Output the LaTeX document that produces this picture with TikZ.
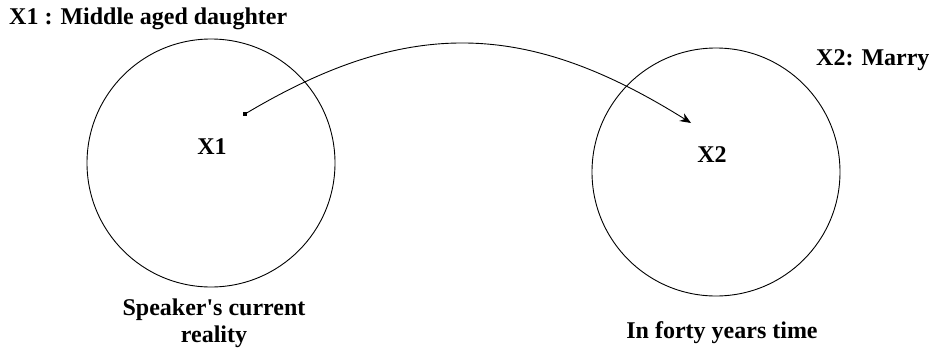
\documentclass[tikz,border=0pt]{standalone}
\usepackage{fontspec}
\setmainfont{Liberation Serif}
\usetikzlibrary{positioning, arrows.meta}
\tikzset{
  region/.style={circle, draw=black, line width=0.9pt, minimum size=248pt, inner sep=0pt},
  label/.style={font=\bfseries\fontsize{24}{27}\selectfont, inner sep=0pt, align=center},
  point/.style={rectangle, fill=black, minimum size=4pt, inner sep=0pt},
  arrow/.style={line width=0.9pt, -{Stealth[length=11pt, width=9pt]}}
}
\begin{document}
\begin{tikzpicture}[x=1pt, y=-1pt]
            \useasboundingbox (0,0) rectangle (934,351);
            % Die beiden Kreise
            \node (now) [region] at (211,163) {};
            \node (later) [region] at (716,172) {};

            \node (x1) [label] at (212,147) {X1};
            \node (x2) [label] at (712,155) {X2};

            \node (title1) [label, anchor=west] at (9,19) {X1 : Middle aged daughter};
            \node (title2) [label, anchor=west] at (816,60) {X2: Marry};

            \node (caption1) [label] at (214,323) {Speaker\textquotesingle s current\\reality};
            \node (caption2) [label] at (722,333) {In forty years time};

            % Pfeil von X1 nach X2
            \node (src) [point] at (245,114) {};
            \coordinate (tgt) at (691,123);
            \draw [arrow] (src.center) .. controls (409,16) and (528,21) .. (tgt);
\end{tikzpicture}
\end{document}
